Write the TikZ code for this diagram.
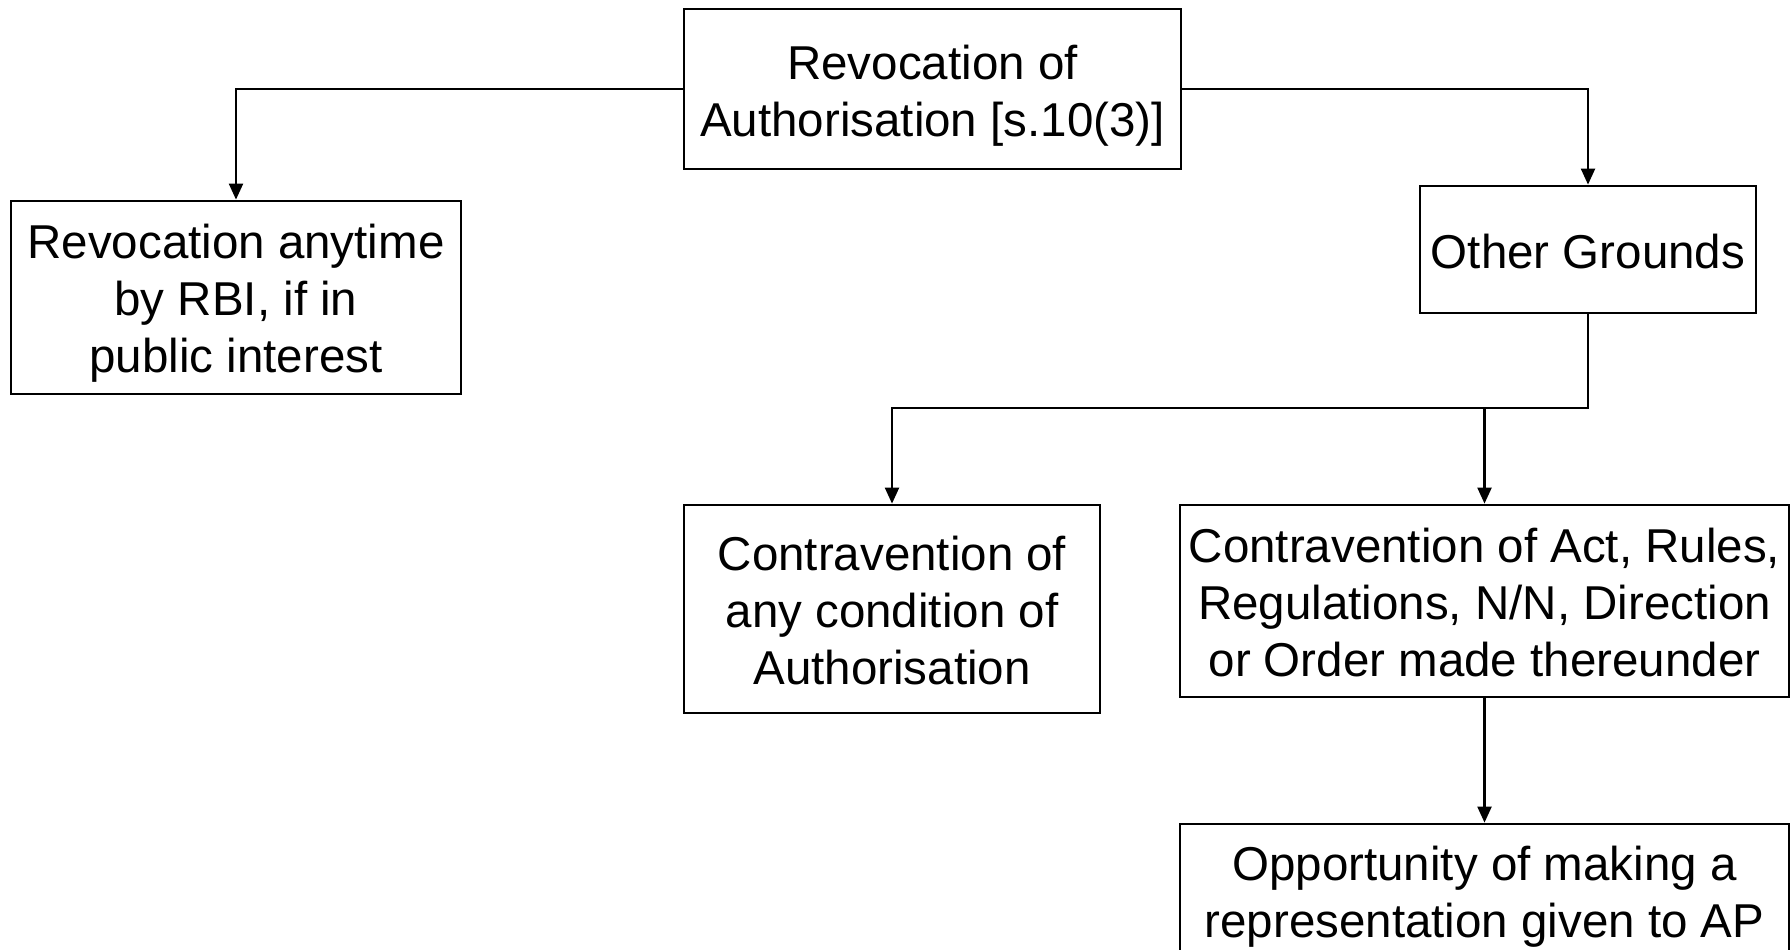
\documentclass[tikz,border=0pt]{standalone}
\usepackage{fontspec}
\setmainfont{Liberation Sans}
\usetikzlibrary{arrows.meta}
\begin{document}
\begin{tikzpicture}[x=0.5pt,y=-0.5pt,
  box/.style={draw,line width=1.4pt,inner sep=0pt},
  txt/.style={align=center,inner sep=0pt,font=\fontsize{23.75}{28.5}\selectfont},
  conn/.style={line width=1.1pt,-{Triangle[length=8pt,width=7pt]}}]
\useasboundingbox (0,0) rectangle (1792,949);
\node[box,minimum width=248.5pt,minimum height=80pt] (top) at (932.5,89) {};
\node[box,minimum width=225pt,minimum height=96.5pt] (left) at (236,297.5) {};
\node[box,minimum width=168pt,minimum height=63.5pt] (other) at (1588,249.5) {};
\node[box,minimum width=208pt,minimum height=104pt] (c1) at (892,609) {};
\node[box,minimum width=304.5pt,minimum height=96pt] (c2) at (1484.5,601) {};
\node[box,minimum width=304.5pt,minimum height=67pt] (opp) at (1484.5,891) {};
\node[txt] (topt) at ([yshift=-3.5pt]top.center) {Revocation of\\Authorisation [s.10(3)]};
\node[txt] (leftt) at ([yshift=-3pt]left.center) {Revocation anytime\\by RBI, if in\\public interest};
\node[txt] (othert) at ([yshift=-1pt]other.center) {Other Grounds};
\node[txt] (c1t) at ([yshift=-1pt]c1.center) {Contravention of\\any condition of\\Authorisation};
\node[txt] (c2t) at ([yshift=-1pt]c2.center) {Contravention of Act, Rules,\\Regulations, N/N, Direction\\or Order made thereunder};
\node[txt] (oppt) at ([yshift=-3pt]opp.center) {Opportunity of making a\\representation given to AP};
\coordinate (j) at (1588,408);
\draw[conn] (top.west) -| (left.north);
\draw[conn] (top.east) -| (other.north);
\draw[conn] (other.south) -- (j) -| (c1.north);
\draw[conn] (c2.north |- j) -- (c2.north);
\draw[conn] (c2.south) -- (opp.north);
\end{tikzpicture}
\end{document}
